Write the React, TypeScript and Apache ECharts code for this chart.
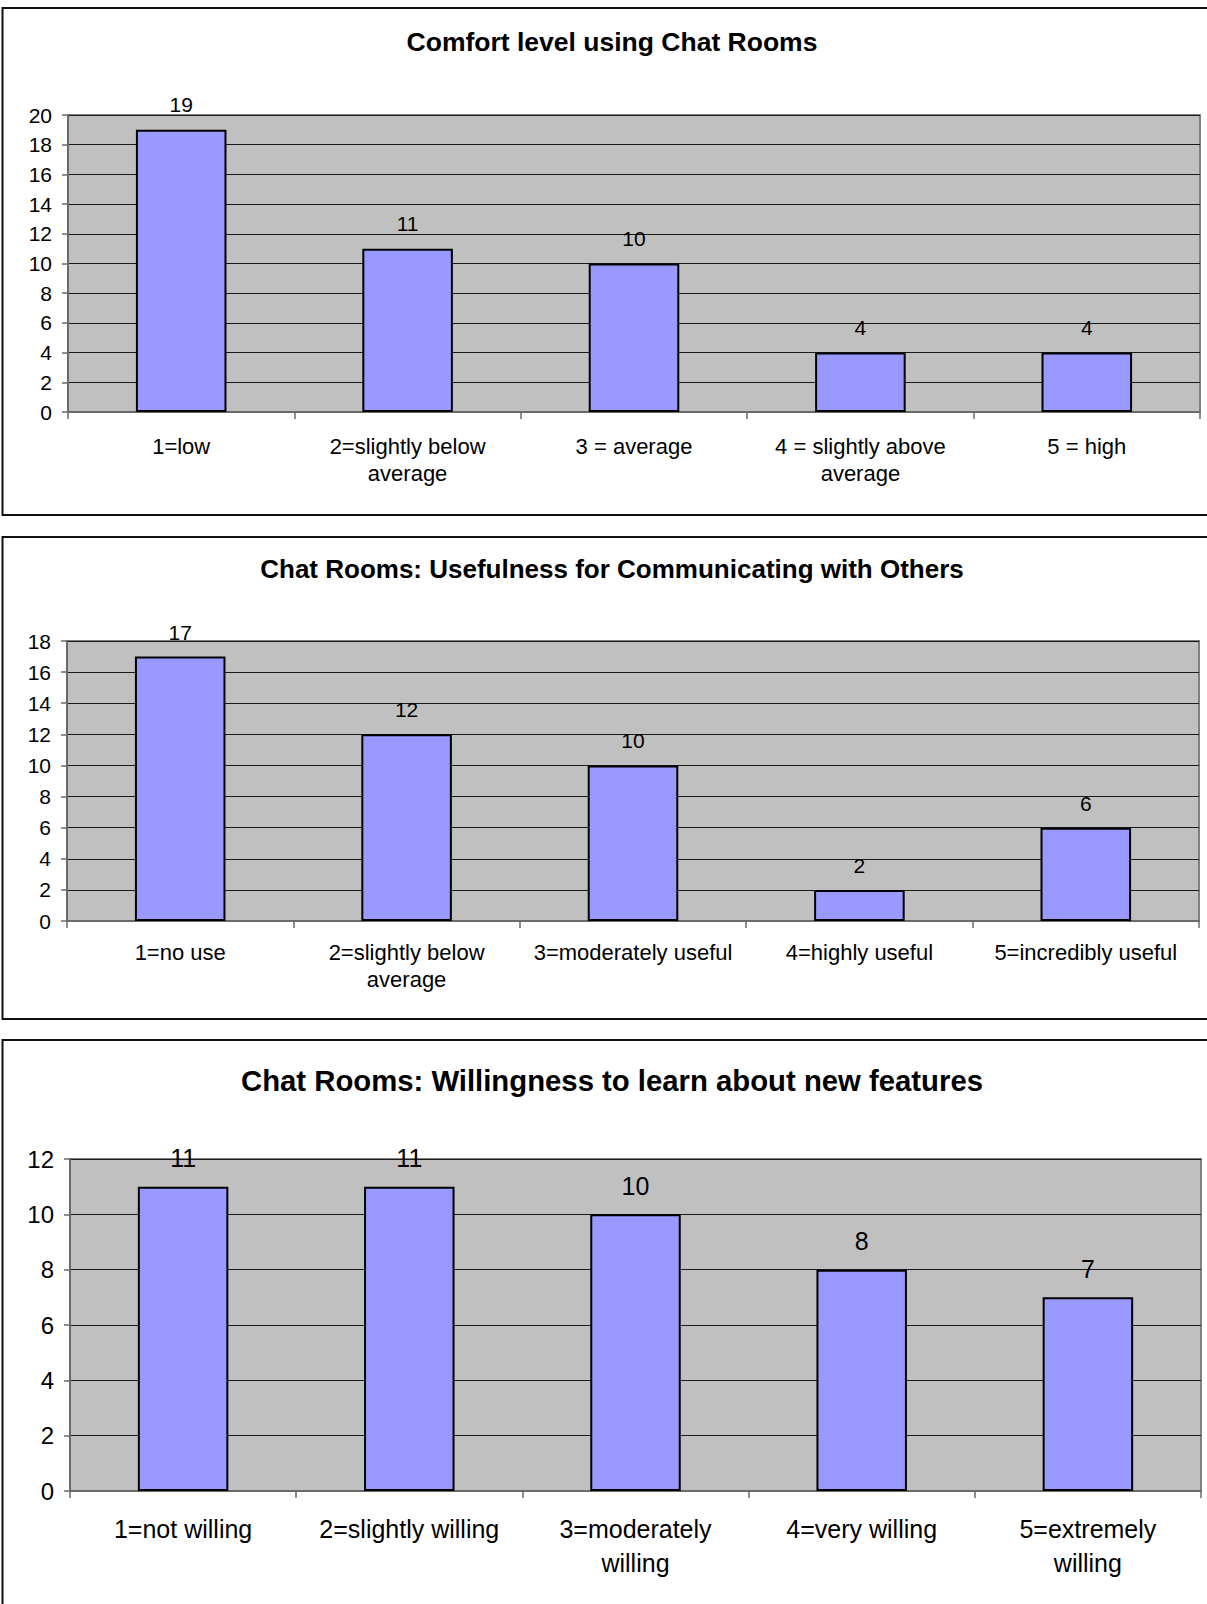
import React, { useEffect, useRef } from "react";
import * as echarts from "echarts";

// Survey answers, one chart per question
const comfortCategories = [
  "1=low",
  "2=slightly below\naverage",
  "3 = average",
  "4 = slightly above\naverage",
  "5 = high",
];
const comfortCounts = [19, 11, 10, 4, 4];

const usefulnessCategories = [
  "1=no use",
  "2=slightly below\naverage",
  "3=moderately useful",
  "4=highly useful",
  "5=incredibly useful",
];
const usefulnessCounts = [17, 12, 10, 2, 6];

const willingnessCategories = [
  "1=not willing",
  "2=slightly willing",
  "3=moderately\nwilling",
  "4=very willing",
  "5=extremely\nwilling",
];
const willingnessCounts = [11, 11, 10, 8, 7];

const titles = [
  "Comfort level using Chat Rooms",
  "Chat Rooms: Usefulness for Communicating with Others",
  "Chat Rooms: Willingness to learn about new features",
];

const FONT = "'Liberation Sans', Arial, Helvetica, sans-serif";

type Panel = {
  categories: string[];
  counts: number[];
  max: number;
  grid: { left: number; top: number; width: number; height: number };
  tickSize: number;
  labelSize: number;
  labelLine: number;
  labelMargin: number;
  valueSize: number;
  valueDistance: number;
};

const panels: Panel[] = [
  {
    categories: comfortCategories,
    counts: comfortCounts,
    max: 20,
    grid: { left: 68, top: 115, width: 1132, height: 297 },
    tickSize: 21,
    labelSize: 22,
    labelLine: 27,
    labelMargin: 21,
    valueSize: 21,
    valueDistance: 15,
  },
  {
    categories: usefulnessCategories,
    counts: usefulnessCounts,
    max: 18,
    grid: { left: 67, top: 641, width: 1132, height: 280 },
    tickSize: 21,
    labelSize: 22,
    labelLine: 27,
    labelMargin: 18,
    valueSize: 21,
    valueDistance: 14,
  },
  {
    categories: willingnessCategories,
    counts: willingnessCounts,
    max: 12,
    grid: { left: 70, top: 1159, width: 1131, height: 332 },
    tickSize: 24,
    labelSize: 25,
    labelLine: 34,
    labelMargin: 21,
    valueSize: 25,
    valueDistance: 16,
  },
];

const frames = [
  { y: 8, h: 507 },
  { y: 537, h: 482 },
  { y: 1040, h: 600 },
];

const titleLayout = [
  { y: 42, size: 26.5 },
  { y: 569, size: 26 },
  { y: 1080, size: 29.3 },
];

export default function App() {
  const ref = useRef<HTMLDivElement>(null);

  useEffect(() => {
    if (!ref.current) return;
    const chart = echarts.init(ref.current, undefined, { renderer: "svg" });

    const option: any = {
      animation: false,
      backgroundColor: "#ffffff",
      textStyle: { fontFamily: FONT },
      grid: panels.map((p) => ({
        ...p.grid,
        containLabel: false,
        outerBoundsMode: "none",
        show: true,
        backgroundColor: "#C0C0C0",
        borderColor: "#808080",
        borderWidth: 2,
      })),
      xAxis: panels.map((p, i) => ({
        type: "category",
        gridIndex: i,
        data: p.categories,
        axisLine: { show: true, lineStyle: { color: "#6a6a6a", width: 2 } },
        axisTick: {
          show: true,
          inside: false,
          length: 7,
          lineStyle: { color: "#6a6a6a", width: 1.5 },
        },
        axisLabel: {
          interval: 0,
          margin: p.labelMargin,
          color: "#000",
          fontFamily: FONT,
          fontSize: p.labelSize,
          lineHeight: p.labelLine,
          align: "center",
        },
        splitLine: { show: false },
      })),
      yAxis: panels.map((p, i) => ({
        type: "value",
        gridIndex: i,
        min: 0,
        max: p.max,
        interval: 2,
        axisLine: { show: true, lineStyle: { color: "#6a6a6a", width: 2 } },
        axisTick: {
          show: true,
          inside: false,
          length: 6,
          lineStyle: { color: "#6a6a6a", width: 1.5 },
        },
        axisLabel: {
          margin: 16,
          color: "#000",
          fontFamily: FONT,
          fontSize: p.tickSize,
        },
        splitLine: { show: true, lineStyle: { color: "#1a1a1a", width: 1 } },
      })),
      series: panels.map((p, i) => ({
        type: "bar",
        xAxisIndex: i,
        yAxisIndex: i,
        data: p.counts,
        barWidth: "40%",
        itemStyle: { color: "#9999FF", borderColor: "#000", borderWidth: 2 },
        label: {
          show: true,
          position: "top",
          distance: p.valueDistance,
          color: "#000",
          fontFamily: FONT,
          fontSize: p.valueSize,
        },
      })),
      graphic: [
        ...frames.map((f) => ({
          type: "rect",
          shape: { x: 2.5, y: f.y, width: 1240, height: f.h },
          style: { fill: "none", stroke: "#111", lineWidth: 2 },
          silent: true,
          z: 10,
        })),
        ...titles.map((t, i) => ({
          type: "text",
          x: 612,
          y: titleLayout[i].y,
          style: {
            text: t,
            fill: "#000",
            font: `bold ${titleLayout[i].size}px ${FONT}`,
            align: "center",
            verticalAlign: "middle",
          },
          z: 10,
        })),
      ],
    };

    chart.setOption(option);
    return () => chart.dispose();
  }, []);

  return (
    <div
      ref={ref}
      style={{ position: "absolute", left: 0, top: 0, width: 1207, height: 1604 }}
    />
  );
}
